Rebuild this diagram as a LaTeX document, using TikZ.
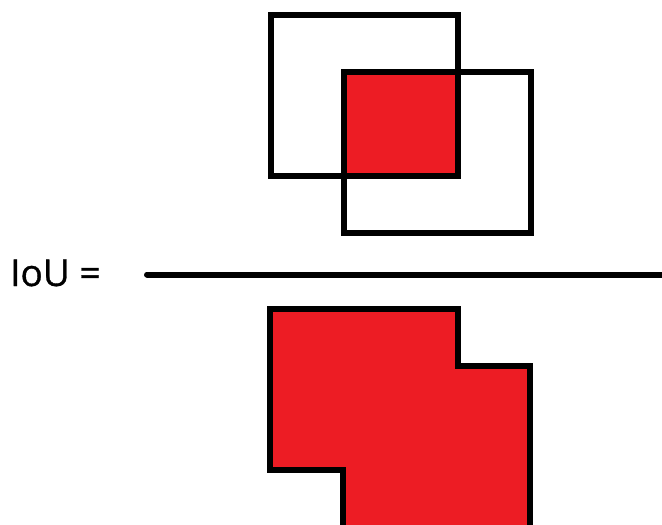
\documentclass[tikz,border=0pt]{standalone}
\usepackage{fontspec}
\setmainfont{Open Sans}
\newfontfamily\labelfont[FakeBold=0.9]{Open Sans}
\definecolor{iured}{RGB}{237,28,36}
\begin{document}
\begin{tikzpicture}[x=1pt,y=-1pt,
  box/.style={draw=black,line width=6.2pt,line join=miter},
  fillred/.style={fill=iured}]
\useasboundingbox (0,0) rectangle (662,525);
\clip (0,0) rectangle (662,525);
% numerator: intersection
\fill[fillred] (344,72) rectangle (458,176);
\draw[box] (271,15) rectangle (458,176);
\draw[box] (344,72) rectangle (531,233);
% fraction line
\coordinate (l1) at (147,274.5);
\coordinate (l2) at (670,274.5);
\draw[line width=6pt,line cap=round] (l1) -- (l2);
% label
\node[anchor=base west,inner sep=0pt,font=\labelfont\fontsize{37}{40}\selectfont] (iou) at (10,286) {IoU =};
% denominator: union
\draw[box,fillred] (343,540) -- (343,470) -- (270,470) -- (270,309) -- (458,309) -- (458,366) -- (530,366) -- (530,540);
\end{tikzpicture}
\end{document}
